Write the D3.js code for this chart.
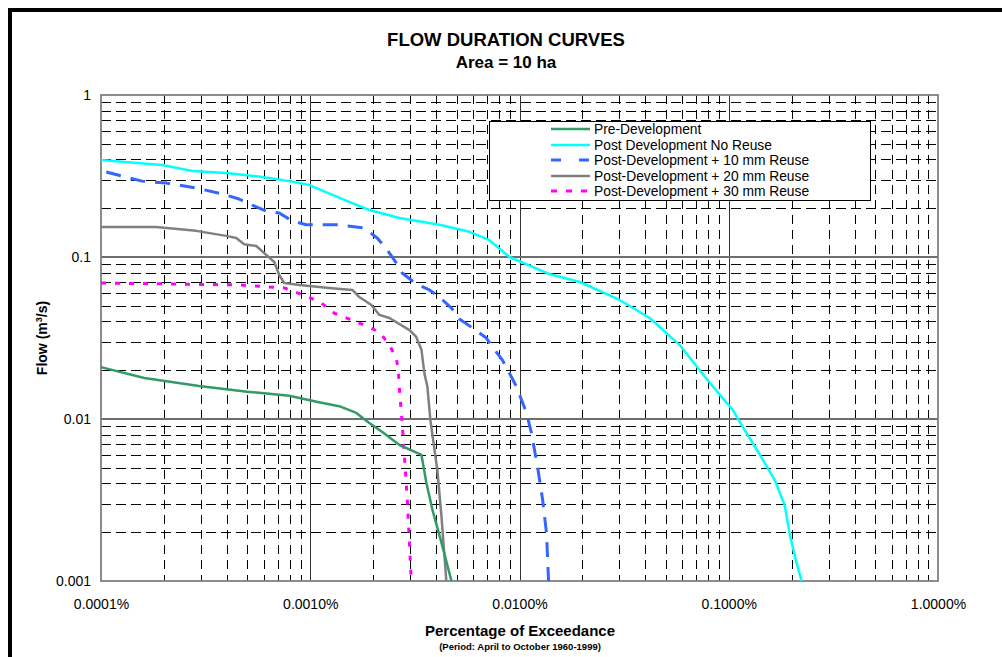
<!DOCTYPE html>
<html>
<head>
<meta charset="utf-8">
<script src="https://cdn.jsdelivr.net/npm/d3@7/dist/d3.min.js"></script>
<style>
  html, body { margin: 0; padding: 0; background: #fff; }
  svg { display: block; font-family: "Liberation Sans", Arial, sans-serif; }
</style>
</head>
<body>
<svg id="chart" width="1002" height="657"></svg>
<script>
// Exceedance (%) vs flow (m3/s) for each scenario
const preDevelopment = [
  [0.0001, 0.0209], [0.000161, 0.0179], [0.000294, 0.0160], [0.000511, 0.0147],
  [0.000794, 0.0139], [0.00110, 0.0127], [0.001376, 0.0120], [0.00166, 0.0109],
  [0.001915, 0.00945], [0.00221, 0.00831], [0.00267, 0.00691], [0.00340, 0.0060],
  [0.00359, 0.00403], [0.00384, 0.00274], [0.00424, 0.00172], [0.00473, 0.0010]
];
const postNoReuse = [
  [0.0001, 0.397], [0.000196, 0.370], [0.000273, 0.340], [0.000396, 0.330],
  [0.000589, 0.312], [0.000794, 0.294], [0.00099, 0.278], [0.001455, 0.225],
  [0.001915, 0.195], [0.00267, 0.174], [0.00414, 0.158], [0.00577, 0.143],
  [0.00718, 0.127], [0.00895, 0.100], [0.0139, 0.0785], [0.0194, 0.0701],
  [0.0301, 0.0543], [0.0419, 0.0420], [0.0583, 0.0286], [0.0726, 0.0200],
  [0.0906, 0.0141], [0.1045, 0.0114], [0.119, 0.00855], [0.141, 0.0060],
  [0.166, 0.0042], [0.185, 0.00294], [0.196, 0.00192], [0.209, 0.00135],
  [0.223, 0.0010]
];
const post10mm = [
  [0.000106, 0.335], [0.000126, 0.316], [0.000157, 0.294], [0.000205, 0.286],
  [0.000285, 0.267], [0.000379, 0.245], [0.000457, 0.228], [0.000528, 0.209],
  [0.000616, 0.192], [0.000711, 0.187], [0.00082, 0.167], [0.000957, 0.158],
  [0.001376, 0.158], [0.00181, 0.151], [0.00209, 0.131], [0.00234, 0.110],
  [0.00258, 0.0918], [0.00275, 0.0796], [0.00321, 0.0681], [0.00371, 0.0626],
  [0.00414, 0.0566], [0.00473, 0.0484], [0.00516, 0.0414], [0.00596, 0.0365],
  [0.00695, 0.0316], [0.00743, 0.0278], [0.00829, 0.0231], [0.00895, 0.0192],
  [0.00968, 0.0158], [0.01023, 0.0131], [0.0108, 0.0109], [0.0114, 0.0082],
  [0.0122, 0.00506], [0.0129, 0.00316], [0.01346, 0.00198], [0.01377, 0.0010]
];
const post20mm = [
  [0.0001, 0.153], [0.000183, 0.153], [0.000285, 0.145], [0.000396, 0.135],
  [0.000443, 0.131], [0.000483, 0.120], [0.000552, 0.117], [0.000616, 0.103],
  [0.000673, 0.0931], [0.000711, 0.0774], [0.000751, 0.0691], [0.000886, 0.0672],
  [0.001233, 0.0644], [0.00159, 0.0626], [0.001715, 0.0566], [0.00196, 0.0506],
  [0.00214, 0.0439], [0.00239, 0.0420], [0.00298, 0.0354], [0.00321, 0.0321],
  [0.00340, 0.0267], [0.00351, 0.0192], [0.00363, 0.0158], [0.00375, 0.00986],
  [0.00405, 0.00484], [0.00424, 0.00248], [0.00447, 0.0010]
];
const post30mm = [
  [0.0001, 0.0691], [0.000457, 0.0672], [0.000751, 0.0644], [0.000957, 0.0574],
  [0.00113, 0.0520], [0.00130, 0.0451], [0.001537, 0.0414], [0.00181, 0.0380],
  [0.00214, 0.0344], [0.00239, 0.0286], [0.00258, 0.0238], [0.00264, 0.0192],
  [0.00267, 0.0151], [0.00275, 0.00945], [0.00282, 0.00582], [0.00291, 0.00316],
  [0.00304, 0.0010]
];

const seriesNames = [
  "Pre-Development",
  "Post Development No Reuse",
  "Post-Development + 10 mm Reuse",
  "Post-Development + 20 mm Reuse",
  "Post-Development + 30 mm Reuse"
];
const xTickValues = [0.0001, 0.001, 0.01, 0.1, 1];
const xTickLabels = ["0.0001%", "0.0010%", "0.0100%", "0.1000%", "1.0000%"];
const yTickValues = [1, 0.1, 0.01, 0.001];
const yTickLabels = ["1", "0.1", "0.01", "0.001"];

const svg = d3.select("#chart");
const plot = { left: 101, right: 938, top: 95, bottom: 581 };

const x = d3.scaleLog().domain([0.0001, 1]).range([plot.left, plot.right]);
const y = d3.scaleLog().domain([0.001, 1]).range([plot.bottom, plot.top]);

// outer frame (top and left edges visible)
svg.append("rect")
  .attr("x", 10).attr("y", 10).attr("width", 1200).attr("height", 1200)
  .attr("fill", "none").attr("stroke", "#000").attr("stroke-width", 4);

// titles
svg.append("text").attr("x", 506).attr("y", 46).attr("text-anchor", "middle")
  .attr("font-size", 18.5).attr("font-weight", "bold").text("FLOW DURATION CURVES");
svg.append("text").attr("x", 506).attr("y", 68).attr("text-anchor", "middle")
  .attr("font-size", 17).attr("font-weight", "bold").text("Area = 10 ha");

// minor grid values: 2..9 within each decade
const minorX = [], minorY = [];
for (let e = -4; e < 0; e++) for (let m = 2; m <= 9; m++) minorX.push(m * Math.pow(10, e));
for (let e = -3; e < 0; e++) for (let m = 2; m <= 9; m++) minorY.push(m * Math.pow(10, e));

const grid = svg.append("g");
grid.selectAll(".mx").data(minorX).join("line")
  .attr("x1", d => Math.round(x(d)) + 0.5).attr("x2", d => Math.round(x(d)) + 0.5)
  .attr("y1", plot.top).attr("y2", plot.bottom)
  .attr("stroke", "#000").attr("stroke-width", 1).attr("stroke-dasharray", "9,6");
grid.selectAll(".my").data(minorY).join("line")
  .attr("y1", d => Math.round(y(d)) + 0.5).attr("y2", d => Math.round(y(d)) + 0.5)
  .attr("x1", plot.left).attr("x2", plot.right)
  .attr("stroke", "#000").attr("stroke-width", 1).attr("stroke-dasharray", "10,5");

// major grid
grid.selectAll(".Mx").data([0.001, 0.01, 0.1]).join("line")
  .attr("x1", d => Math.round(x(d)) + 0.5).attr("x2", d => Math.round(x(d)) + 0.5)
  .attr("y1", plot.top).attr("y2", plot.bottom)
  .attr("stroke", "#333").attr("stroke-width", 1);
grid.selectAll(".My").data([0.1, 0.01]).join("line")
  .attr("y1", d => y(d)).attr("y2", d => y(d))
  .attr("x1", plot.left).attr("x2", plot.right)
  .attr("stroke", "#6e6e6e").attr("stroke-width", 1.8);

// plot frame
svg.append("rect")
  .attr("x", plot.left).attr("y", plot.top)
  .attr("width", plot.right - plot.left).attr("height", plot.bottom - plot.top)
  .attr("fill", "none").attr("stroke", "#808080").attr("stroke-width", 1.8);

// axes
const xAxis = d3.axisBottom(x).tickValues(xTickValues)
  .tickFormat((d, i) => xTickLabels[i]).tickSize(0).tickPadding(18);
const gx = svg.append("g").attr("transform", `translate(0,${plot.bottom})`).call(xAxis);
gx.select(".domain").remove();
gx.selectAll("text").attr("font-size", 14).attr("fill", "#000")
  .attr("font-family", "'Liberation Sans', Arial, sans-serif");

const yAxis = d3.axisLeft(y).tickValues(yTickValues)
  .tickFormat((d, i) => yTickLabels[i]).tickSize(0).tickPadding(10);
const gy = svg.append("g").attr("transform", `translate(${plot.left},0)`).call(yAxis);
gy.select(".domain").remove();
gy.selectAll("text").attr("font-size", 14).attr("fill", "#000")
  .attr("font-family", "'Liberation Sans', Arial, sans-serif");

// axis titles
svg.append("text").attr("x", 520).attr("y", 636).attr("text-anchor", "middle")
  .attr("font-size", 15).attr("font-weight", "bold").text("Percentage of Exceedance");
svg.append("text").attr("x", 520).attr("y", 650).attr("text-anchor", "middle")
  .attr("font-size", 9.5).attr("font-weight", "bold").text("(Period: April to October 1960-1999)");

const yTitle = svg.append("text")
  .attr("transform", "translate(47,338) rotate(-90)")
  .attr("text-anchor", "middle").attr("font-size", 14).attr("font-weight", "bold");
yTitle.append("tspan").text("Flow (m");
yTitle.append("tspan").attr("dy", -5).attr("font-size", 9).text("3");
yTitle.append("tspan").attr("dy", 5).text("/s)");

// curves
const styles = [
  { data: preDevelopment, color: "#339966", dash: null, width: 2.5 },
  { data: postNoReuse, color: "#00FFFF", dash: null, width: 2.5 },
  { data: post10mm, color: "#3366FF", dash: "15,10", width: 3 },
  { data: post20mm, color: "#808080", dash: null, width: 2.5 },
  { data: post30mm, color: "#FF00FF", dash: "5,9", width: 3 }
];
const line = d3.line().x(d => x(d[0])).y(d => y(d[1]));
const drawOrder = [1, 2, 3, 4, 0];
svg.append("g").selectAll("path").data(drawOrder.map(i => styles[i])).join("path")
  .attr("d", d => line(d.data))
  .attr("fill", "none")
  .attr("stroke", d => d.color)
  .attr("stroke-width", d => d.width)
  .attr("stroke-dasharray", d => d.dash)
  .attr("stroke-linejoin", "round");

// legend
const legend = svg.append("g");
legend.append("rect").attr("x", 489.5).attr("y", 121.5).attr("width", 381).attr("height", 79)
  .attr("fill", "#fff").attr("stroke", "#000").attr("stroke-width", 1);
const rowY = [129, 145, 160, 176, 191];
const rows = legend.selectAll("g.row").data(styles).join("g")
  .attr("transform", (d, i) => `translate(0,${rowY[i]})`);
rows.append("line").attr("x1", 551).attr("x2", 590).attr("y1", 0).attr("y2", 0)
  .attr("stroke", d => d.color).attr("stroke-width", d => d.width)
  .attr("stroke-dasharray", d => d.dash ? (d.dash === "15,10" ? "10,18" : "6,9") : null);
rows.append("text").attr("x", 594).attr("y", 0).attr("dy", "0.35em")
  .attr("font-size", 13.8).text((d, i) => seriesNames[i]);
</script>
</body>
</html>
